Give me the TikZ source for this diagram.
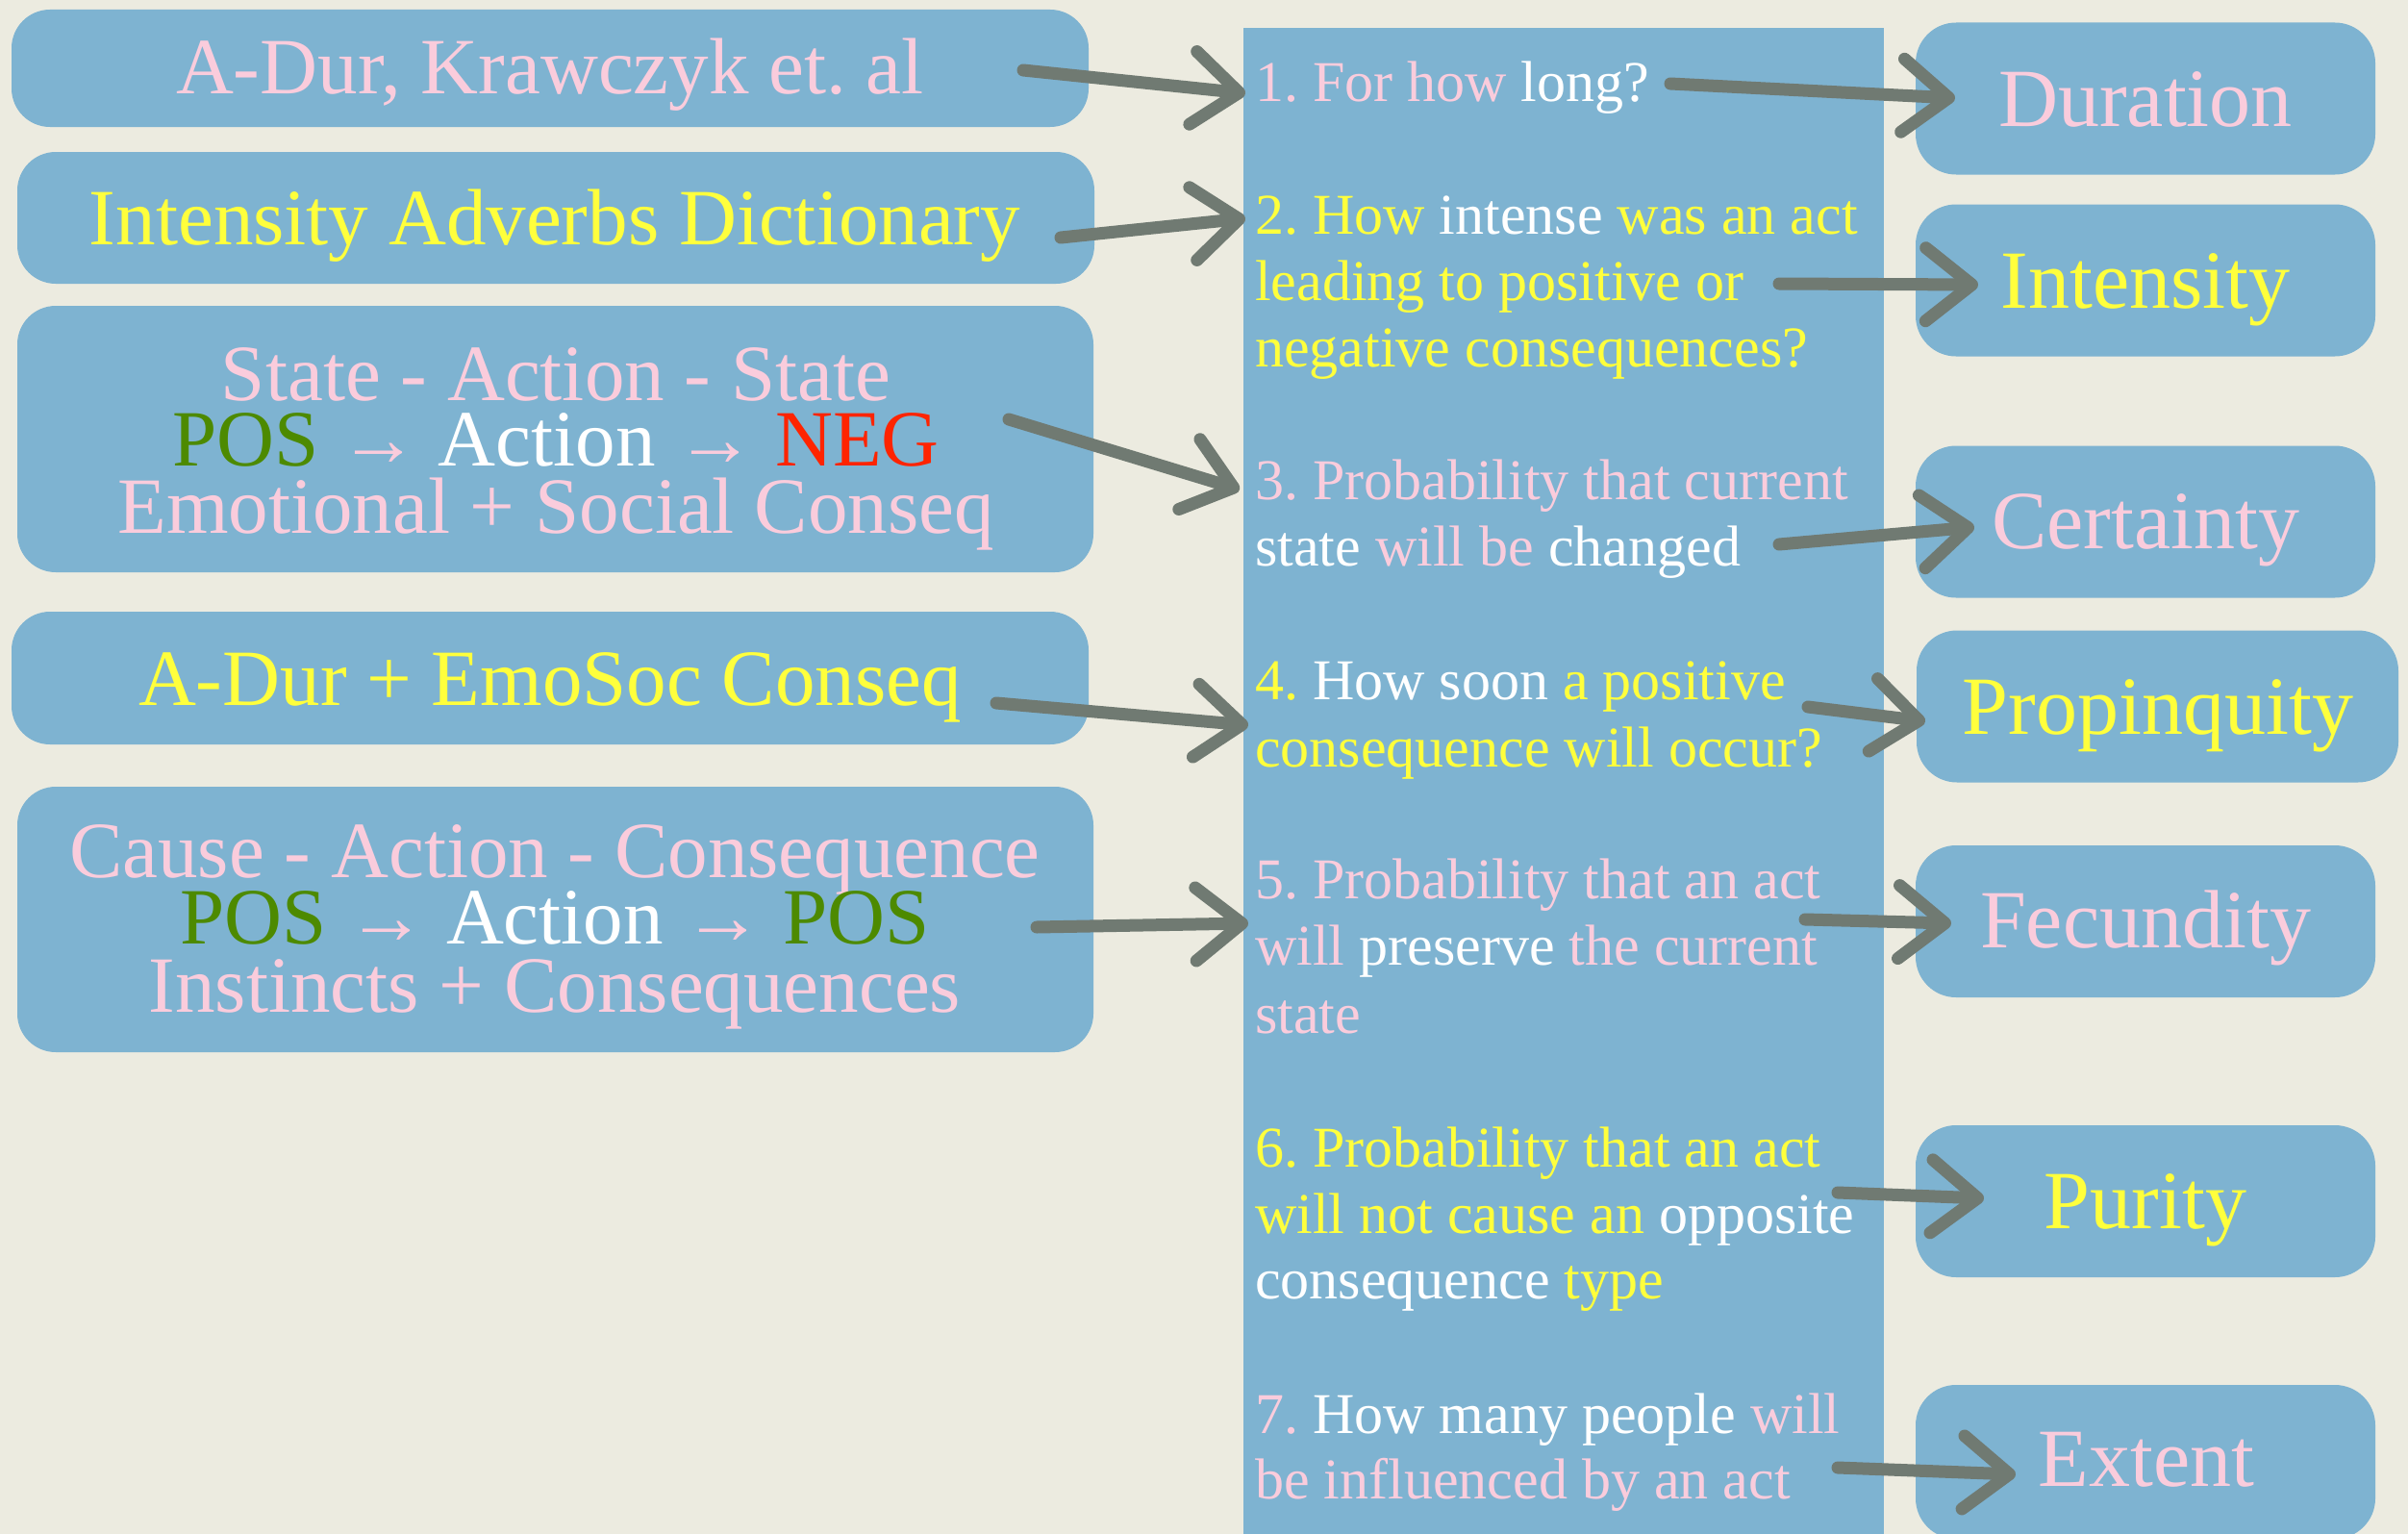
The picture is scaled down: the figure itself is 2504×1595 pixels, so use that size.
\documentclass[tikz,border=0pt]{standalone}
\usepackage{fontspec}
\setmainfont{Liberation Serif}
\usetikzlibrary{arrows.meta}
\definecolor{bg}{RGB}{236,235,224}
\definecolor{boxblue}{RGB}{126,179,209}
\definecolor{tpink}{RGB}{250,204,220}
\definecolor{tyellow}{RGB}{255,255,60}
\definecolor{tgreen}{RGB}{77,138,0}
\definecolor{tred}{RGB}{255,36,0}
\definecolor{chalk}{RGB}{112,122,114}
\newcommand{\cpk}[1]{\textcolor{tpink}{#1}}
\newcommand{\cyl}[1]{\textcolor{tyellow}{#1}}
\newcommand{\cgn}[1]{\textcolor{tgreen}{#1}}
\newcommand{\crd}[1]{\textcolor{tred}{#1}}
\frenchspacing
\tikzset{
 lbox/.style={fill=boxblue, rounded corners=40pt, inner sep=0pt, minimum width=1120pt},
 mbox/.style={fill=boxblue, inner sep=0pt},
 rbox/.style={fill=boxblue, rounded corners=42pt, inner sep=0pt, minimum width=478pt, minimum height=158pt},
 ltext/.style={anchor=base, inner sep=0pt, text=white, font=\fontsize{83}{90}\selectfont},
 qtext/.style={anchor=base west, inner sep=0pt, text=white, font=\fontsize{60}{66}\selectfont},
 rtext/.style={anchor=base, inner sep=0pt, text=white, font=\fontsize{86}{92}\selectfont},
 chalkarrow/.style={draw=chalk, line width=13pt, line cap=round, -{Straight Barb[length=48pt,width=76pt,round]}},
}
\begin{document}
\begin{tikzpicture}[x=1pt,y=-1pt]
\useasboundingbox (0,0) rectangle (2504,1595);
\clip (0,0) rectangle (2504,1595);
\fill[bg] (0,0) rectangle (2504,1595);

% left boxes
\node[lbox, minimum height=122pt] (b1) at (572,71) {};
\node[lbox, minimum height=137pt] (b2) at (578,226.5) {};
\node[lbox, minimum height=277pt, minimum width=1119pt] (b3) at (577.5,456.5) {};
\node[lbox, minimum height=138pt] (b4) at (572,705) {};
\node[lbox, minimum height=276pt, minimum width=1119pt] (b5) at (577.5,956) {};

% middle column
\node[mbox, minimum width=666pt, minimum height=1600pt] (mid) at (1626,829) {};

% right boxes
\node[rbox] (r1) at (2231,102.5) {};
\node[rbox] (r2) at (2231,291.5) {};
\node[rbox] (r3) at (2231,542.5) {};
\node[rbox, minimum width=501pt] (r4) at (2243.5,734.5) {};
\node[rbox] (r5) at (2231,958) {};
\node[rbox] (r6) at (2231,1249) {};
\node[rbox, minimum height=160pt] (r7) at (2231,1520) {};

% left texts
\node[ltext, text=tpink] (t1) at (572,98) {A-Dur, Krawczyk et. al};
\node[ltext, text=tyellow] (t2) at (577,254) {Intensity Adverbs Dictionary};
\node[ltext, text=tpink] (t3a) at (578,416) {State - Action - State};
\node[ltext] (t3b) at (578,484) {\cgn{POS} \cpk{→} Action \cpk{→} \crd{NEG}};
\node[ltext, text=tpink] (t3c) at (578,554) {Emotional + Social Conseq};
\node[ltext, text=tyellow] (t4) at (572,733) {A-Dur + EmoSoc Conseq};
\node[ltext, text=tpink] (t5a) at (577,912) {Cause - Action - Consequence};
\node[ltext] (t5b) at (577,981) {\cgn{POS} \cpk{→} Action \cpk{→} \cgn{POS}};
\node[ltext, text=tpink] (t5c) at (577,1052) {Instincts + Consequences};

% question texts
\node[qtext] (q1) at (1305,105) {\cpk{1. For how} long?};
\node[qtext] (q2a) at (1305,243) {\cyl{2. How} intense \cyl{was an act}};
\node[qtext, text=tyellow] (q2b) at (1305,312) {leading to positive or};
\node[qtext, text=tyellow] (q2c) at (1305,381) {negative consequences?};
\node[qtext, text=tpink] (q3a) at (1305,519) {3. Probability that current};
\node[qtext] (q3b) at (1305,588) {state \cpk{will be} changed};
\node[qtext] (q4a) at (1305,727) {\cyl{4.} How soon \cyl{a positive}};
\node[qtext, text=tyellow] (q4b) at (1305,797) {consequence will occur?};
\node[qtext, text=tpink] (q5a) at (1305,934) {5. Probability that an act};
\node[qtext] (q5b) at (1305,1003) {\cpk{will} preserve \cpk{the current}};
\node[qtext, text=tpink] (q5c) at (1305,1074) {state};
\node[qtext, text=tyellow] (q6a) at (1305,1213) {6. Probability that an act};
\node[qtext] (q6b) at (1305,1282) {\cyl{will not cause an} opposite};
\node[qtext] (q6c) at (1305,1350) {consequence \cyl{type}};
\node[qtext] (q7a) at (1305,1490) {\cpk{7.} How many people \cpk{will}};
\node[qtext, text=tpink] (q7b) at (1305,1558) {be influenced by an act};

% right texts
\node[rtext, text=tpink] (d1) at (2231,131) {Duration};
\node[rtext, text=tyellow] (d2) at (2231,320) {Intensity};
\node[rtext, text=tpink] (d3) at (2231,570) {Certainty};
\node[rtext, text=tyellow] (d4) at (2244,763) {Propinquity};
\node[rtext, text=tpink] (d5) at (2231,985) {Fecundity};
\node[rtext, text=tyellow] (d6) at (2231,1277) {Purity};
\node[rtext, text=tpink] (d7) at (2232,1545) {Extent};

% arrow end points
\coordinate (a1s) at (1064,73);   \coordinate (a1e) at (1295,97);
\coordinate (a2s) at (1103,247);  \coordinate (a2e) at (1295,227);
\coordinate (a3s) at (1049,436);  \coordinate (a3e) at (1289,509);
\coordinate (a4s) at (1036,731);  \coordinate (a4e) at (1298,754);
\coordinate (a5s) at (1078,964);  \coordinate (a5e) at (1298,960);
\coordinate (c1s) at (1737,87);   \coordinate (c1e) at (2033,102);
\coordinate (c2s) at (1850,295);  \coordinate (c2e) at (2057,296);
\coordinate (c3s) at (1850,566);  \coordinate (c3e) at (2053,548);
\coordinate (c4s) at (1880,735);  \coordinate (c4e) at (2002,750);
\coordinate (c5s) at (1877,956);  \coordinate (c5e) at (2029,960);
\coordinate (c6s) at (1911,1240); \coordinate (c6e) at (2063,1246);
\coordinate (c7s) at (1911,1526); \coordinate (c7e) at (2096,1533);

\foreach \p in {a1,a2,a3,a4,a5,c1,c2,c3,c4,c5,c6,c7}
  \draw[chalkarrow] (\p s) -- (\p e);
\end{tikzpicture}
\end{document}
